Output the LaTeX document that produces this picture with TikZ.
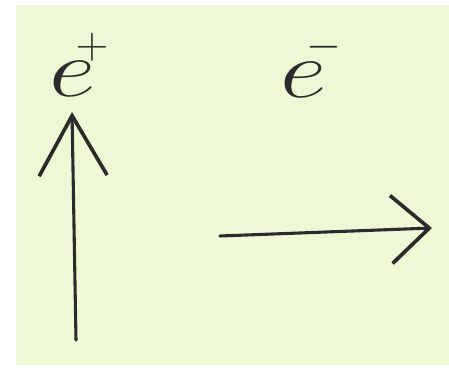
\RequirePackage{fix-cm}
\documentclass[tikz,border=0pt]{standalone}
\usetikzlibrary{arrows.meta}
\definecolor{paper}{HTML}{EEF8D4}
\definecolor{ink}{HTML}{2B2B2B}
\newcommand{\charge}[2]{\scalebox{1.25}[1]{$e$}\hspace{-14pt}\raisebox{#2}{\fontsize{32}{32}\selectfont$#1$}}
\begin{document}
\begin{tikzpicture}[x=0.025cm,y=-0.025cm,
  particle/.style={ink,inner sep=0pt,anchor=base west,font=\fontsize{58}{58}\selectfont},
  track/.style={ink,line width=2.2pt,line cap=round,line join=round,
    -{Straight Barb[length=#1,width=1.7cm,line width=2.6pt]}}]
\useasboundingbox (0,0) rectangle (449,374);
\fill[paper] (16,5) rectangle (449,365);
% positron going up
\node[particle] (eplus) at (49,97) {\charge{+}{27.5pt}};
\coordinate (upfoot) at (76,340);
\coordinate (uptip) at (72,112);
\draw[track=1.5cm] (upfoot) -- (uptip);
% electron going right
\node[particle] (eminus) at (280,98) {\charge{-}{28pt}};
\coordinate (rightfoot) at (220,236);
\coordinate (righttip) at (432,228);
\draw[track=0.95cm] (rightfoot) -- (righttip);
\end{tikzpicture}
\end{document}
